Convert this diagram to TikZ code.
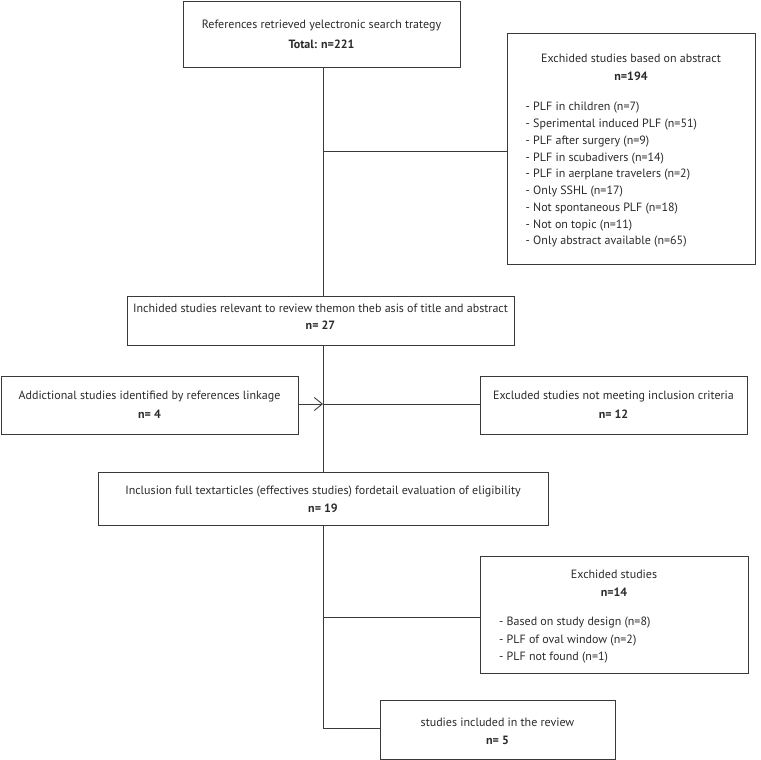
\documentclass[tikz,border=0pt]{standalone}
\usepackage{fontspec}
\setmainfont{PT Sans}
\usetikzlibrary{arrows.meta}
\definecolor{ln}{HTML}{3A3A3A}
\definecolor{tx}{HTML}{2A2A2A}
\tikzset{
  box/.style={draw=ln, line width=0.9pt, rectangle, inner sep=0pt},
  lbl/.style={inner sep=0pt, text=tx, font=\fontsize{12}{14}\selectfont, anchor=center},
  lst/.style={inner sep=0pt, text=tx, font=\fontsize{12}{14}\selectfont, anchor=west},
  conn/.style={draw=ln, line width=0.9pt},
}
\begin{document}
\begin{tikzpicture}[x=1pt,y=-1pt]
\useasboundingbox (0,0) rectangle (761,760);
% boxes
\node[box, minimum width=277pt, minimum height=66pt] (b1) at (321.5,34) {};
\node[box, minimum width=248pt, minimum height=231pt] (b2) at (631,148.5) {};
\node[box, minimum width=387pt, minimum height=49pt] (b3) at (320.5,320.5) {};
\node[box, minimum width=297pt, minimum height=58pt] (b4) at (149.5,405) {};
\node[box, minimum width=267pt, minimum height=58pt] (b5) at (613.5,405) {};
\node[box, minimum width=450pt, minimum height=53pt] (b6) at (323,498.5) {};
\node[box, minimum width=268pt, minimum height=117pt] (b7) at (614,614.5) {};
\node[box, minimum width=235pt, minimum height=59pt] (b8) at (497.5,729.5) {};
% texts
\node[lbl] (t1a) at (321.5,26) {References retrieved yelectronic search trategy};
\node[lbl] (t1b) at (321.5,44) {\bfseries Total: n=221};
\node[lbl] (t2a) at (631,58) {Exchided studies based on abstract};
\node[lbl] (t2b) at (631,76) {\bfseries n=194};
\node[lst] (l1) at (525.5,108) {- PLF in children (n=7)};
\node[lst] (l2) at (525.5,124.75) {- Sperimental induced PLF (n=51)};
\node[lst] (l3) at (525.5,141.5) {- PLF after surgery (n=9)};
\node[lst] (l4) at (525.5,158.25) {- PLF in scubadivers (n=14)};
\node[lst] (l5) at (525.5,175) {- PLF in aerplane travelers (n=2)};
\node[lst] (l6) at (525.5,191.75) {- Only SSHL (n=17)};
\node[lst] (l7) at (525.5,208.5) {- Not spontaneous PLF (n=18)};
\node[lst] (l8) at (525.5,225.25) {- Not on topic (n=11)};
\node[lst] (l9) at (525.5,242) {- Only abstract available (n=65)};
\node[lbl] (t3a) at (320.5,308) {Inchided studies relevant to review themon theb asis of title and abstract};
\node[lbl] (t3b) at (320.5,325) {\bfseries n= 27};
\node[lbl] (t4a) at (149.5,397) {Addictional studies identified by references linkage};
\node[lbl] (t4b) at (149.5,414) {\bfseries n= 4};
\node[lbl] (t5a) at (613.5,397) {Excluded studies not meeting inclusion criteria};
\node[lbl] (t5b) at (613.5,414) {\bfseries n= 12};
\node[lbl] (t6a) at (323,492) {Inclusion full textarticles (effectives studies) fordetail evaluation of eligibility};
\node[lbl] (t6b) at (323,508) {\bfseries n= 19};
\node[lbl] (t7a) at (614,574) {Exchided studies};
\node[lbl] (t7b) at (614,592) {\bfseries n=14};
\node[lst] (m1) at (499,623) {- Based on study design (n=8)};
\node[lst] (m2) at (499,641) {- PLF of oval window (n=2)};
\node[lst] (m3) at (499,658) {- PLF not found (n=1)};
\node[lbl] (t8a) at (497.5,722) {studies included in the review};
\node[lbl] (t8b) at (497.5,740) {\bfseries n= 5};
% junction coordinates
\coordinate (j1) at (323,151);
\coordinate (j2) at (323,404);
\coordinate (j3) at (323,617);
\coordinate (j4) at (323,728);
% connectors
\draw[conn] (b1.south -| j1) -- (b3.north -| j1);
\draw[conn] (j1) -- (j1 -| b2.west);
\draw[conn] (b3.south -| j2) -- (b6.north -| j2);
\draw[conn] (j2) -- (j2 -| b5.west);
\draw[conn, -{Straight Barb[length=8pt,width=13pt,line width=0.9pt]}] (b4.east |- j2) -- (j2);
\draw[conn] (b6.south -| j3) -- (j4) -- (j4 -| b8.west);
\draw[conn] (j3) -- (j3 -| b7.west);
\end{tikzpicture}
\end{document}
